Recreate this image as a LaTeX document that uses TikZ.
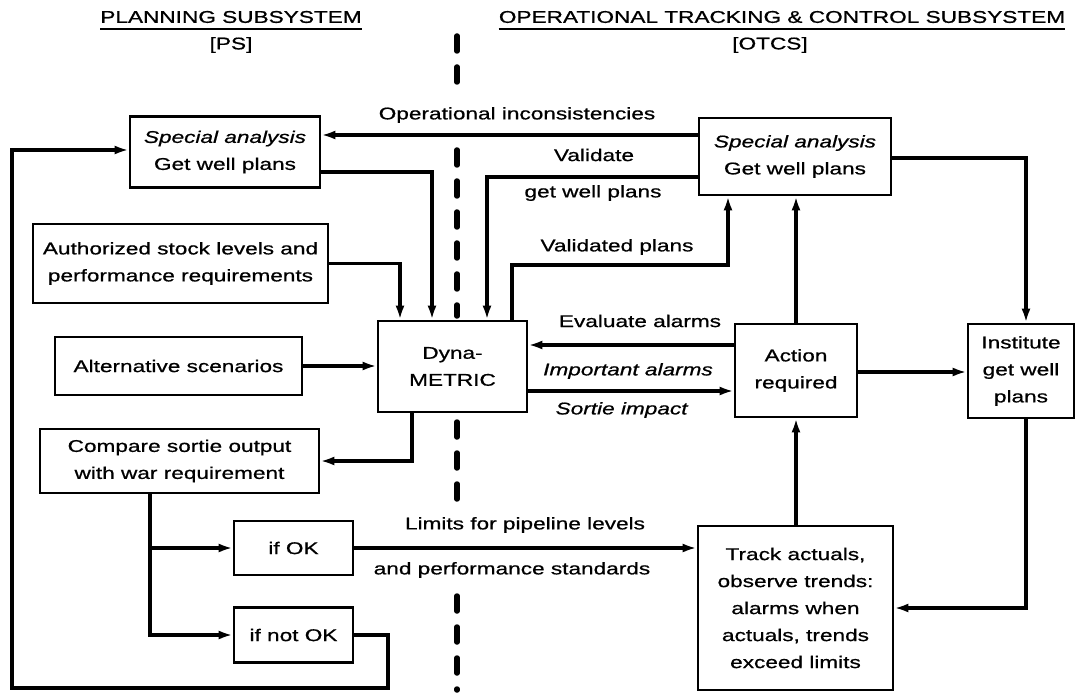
\documentclass[tikz,border=0pt]{standalone}
\usepackage{fontspec}
\setmainfont{Liberation Sans}[FakeStretch=1.33,FakeBold=0.8]
\usetikzlibrary{arrows.meta}
\begin{document}
\begin{tikzpicture}[x=1pt,y=-1pt,
  every node/.style={font=\fontsize{17}{27}\selectfont, inner sep=0pt},
  box/.style={draw, line width=2.7pt, fill=white, align=center},
  arr/.style={line width=3.6pt, -{Latex[length=14pt,width=9pt]}},
  ln/.style={line width=3.6pt},
  uline/.style={line width=1.6pt},
  divider/.style={line width=5.5pt, dash pattern=on 15pt off 16pt, line cap=round}
]
\useasboundingbox (0,0) rectangle (1077,695);

% divider
\draw[divider] (457,36) -- (457,92);
\draw[divider] (457,150) -- (457,316);
\draw[divider] (457,422) -- (457,508);
\draw[divider] (457,596) -- (457,690);

% titles
\node (tPS) at (231,17) {PLANNING SUBSYSTEM};
\draw[uline] ([yshift=-6pt]tPS.south west) -- ([yshift=-6pt]tPS.south east);
\node (tPSa) at (231,45) {[PS]};
\node (tOT) at (782,17) {OPERATIONAL TRACKING \& CONTROL SUBSYSTEM};
\draw[uline] ([yshift=-6pt]tOT.south west) -- ([yshift=-6pt]tOT.south east);
\node (tOTa) at (770,45) {[OTCS]};

% boxes
\node[box, minimum width=190pt, minimum height=71pt] (specL) at (225,152) {\textit{Special analysis}\\Get well plans};
\node[box, minimum width=295pt, minimum height=79pt] (auth) at (180.5,263.5) {Authorized stock levels and\\performance requirements};
\node[box, minimum width=247pt, minimum height=58pt] (alt) at (178.5,366) {Alternative scenarios};
\node[box, minimum width=149pt, minimum height=91pt] (dyna) at (452.5,366.5) {Dyna-\\METRIC};
\node[box, minimum width=279pt, minimum height=64pt] (comp) at (179.5,461) {Compare sortie output\\with war requirement};
\node[box, minimum width=119pt, minimum height=54pt] (ok) at (293.5,548) {if OK};
\node[box, minimum width=119pt, minimum height=55pt] (nok) at (293.5,635) {if not OK};
\node[box, minimum width=192pt, minimum height=77pt] (specR) at (795,156.5) {\textit{Special analysis}\\Get well plans};
\node[box, minimum width=122pt, minimum height=93pt] (act) at (796,370.5) {Action\\required};
\node[box, minimum width=106pt, minimum height=94pt] (inst) at (1021,371) {Institute\\get well\\plans};
\node[box, minimum width=195pt, minimum height=164pt] (track) at (795.5,608) {Track actuals,\\observe trends:\\alarms when\\actuals, trends\\exceed limits};

% labels
\node (lOp) at (517,115) {Operational inconsistencies};
\node (lVal) at (594,155) {Validate};
\node (lGwp) at (593,193) {get well plans};
\node (lVp) at (617,247) {Validated plans};
\node (lEv) at (640,321) {Evaluate alarms};
\node (lImp) at (628,371) {\textit{Important alarms}};
\node (lSort) at (622,410) {\textit{Sortie impact}};
\node (lLim) at (525,525) {Limits for pipeline levels};
\node (lPerf) at (512,570) {and performance standards};

% connectors
\coordinate (loopA) at (388,688);
\coordinate (loopB) at (12,688);
\coordinate (br) at (150,0);
\draw[arr] (specR.west |- 0,135) -- (specL.east |- 0,135);
\draw[arr] (nok.east) -| (loopA) -- (loopB) |- (specL.west |- 0,150);
\draw[arr] (specL.east |- 0,172) -| (dyna.north -| 432,0);
\draw[arr] (auth.east) -| (dyna.north -| 400,0);
\draw[arr] (specR.west |- 0,177) -| (dyna.north -| 487,0);
\draw[arr] (dyna.north -| 512,0) -- (512,265) -| (specR.south -| 728,0);
\draw[arr] (alt.east) -- (alt.east -| dyna.west);
\draw[arr] (act.west |- 0,345) -- (dyna.east |- 0,345);
\draw[arr] (dyna.east |- 0,391) -- (act.west |- 0,391);
\draw[arr] (act.north) -- (specR.south -| act.north);
\draw[arr] (specR.east |- 0,158) -| (inst.north -| 1026,0);
\draw[arr] (act.east |- 0,372) -- (inst.west |- 0,372);
\draw[arr] (inst.south -| 1026,0) |- (track.east);
\draw[arr] (track.north -| act.south) -- (act.south);
\draw[arr] (ok.east) -- (ok.east -| track.west);
\draw[arr] (dyna.south -| 412,0) |- (comp.east);
\draw[arr] (comp.south -| br) |- (nok.west);
\draw[arr] (br |- ok.west) -- (ok.west);
\end{tikzpicture}
\end{document}
